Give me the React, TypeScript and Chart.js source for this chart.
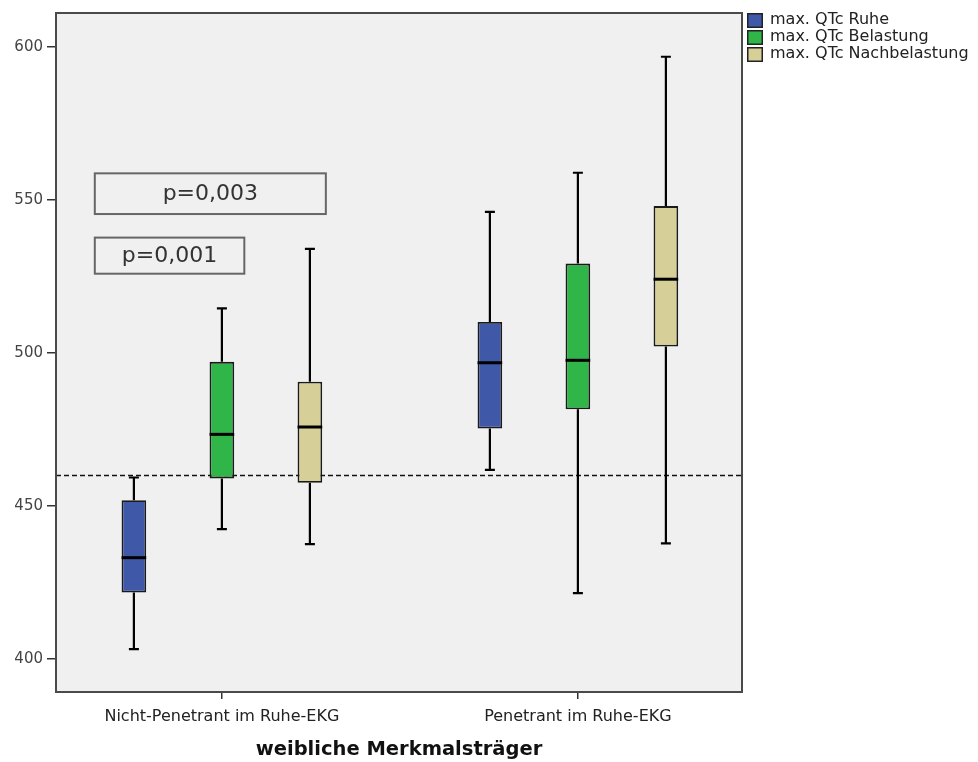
import React, { useEffect, useRef } from "react";
import { Chart, registerables } from "chart.js";

Chart.register(...registerables);

// ---- data ----
const categories = ["Nicht-Penetrant im Ruhe-EKG", "Penetrant im Ruhe-EKG"];
const seriesNames = ["max. QTc Ruhe", "max. QTc Belastung", "max. QTc Nachbelastung"];
const seriesColors = ["#3f58a8", "#2fb548", "#d6cf98"];

const ruheMin = [403.2, 461.8];
const ruheQ1 = [421.7, 475.3];
const ruheMedian = [433.1, 496.8];
const ruheQ3 = [451.9, 510.1];
const ruheMax = [459.3, 546.1];

const belastungMin = [442.4, 421.5];
const belastungQ1 = [459.0, 481.6];
const belastungMedian = [473.4, 497.6];
const belastungQ3 = [497.1, 529.2];
const belastungMax = [514.6, 558.9];

const nachMin = [437.5, 437.8];
const nachQ1 = [457.6, 502.1];
const nachMedian = [475.8, 524.1];
const nachQ3 = [490.6, 548.0];
const nachMax = [534.0, 596.8];

const yTicks = [400, 450, 500, 550, 600];
const yMin = 389.2;
const yMax = 611.1;
const xMin = -0.466;
const xMax = 1.461;
const referenceLine = 460;
const axisTitle = "weibliche Merkmalsträger";

// p-value annotations (data units)
const pLabels = ["p=0,003", "p=0,001"];
const pFromX = [-0.357, -0.357];
const pToX = [0.292, 0.063];
const pTopY = [558.7, 537.7];
const pBottomY = [545.4, 525.9];

const stats = [
  { min: ruheMin, q1: ruheQ1, med: ruheMedian, q3: ruheQ3, max: ruheMax },
  { min: belastungMin, q1: belastungQ1, med: belastungMedian, q3: belastungQ3, max: belastungMax },
  { min: nachMin, q1: nachQ1, med: nachMedian, q3: nachQ3, max: nachMax },
];

const SANS = "'DejaVu Sans', sans-serif";

const boxPlotPlugin = {
  id: "boxplotExtras",
  beforeDraw(chart: any) {
    const { ctx, chartArea } = chart;
    ctx.save();
    ctx.fillStyle = "#f0f0f0";
    ctx.fillRect(chartArea.left, chartArea.top, chartArea.width, chartArea.height);
    ctx.restore();
  },
  beforeDatasetsDraw(chart: any) {
    const { ctx, chartArea, scales } = chart;
    const xs = scales.x;
    const ys = scales.y;
    ctx.save();
    // reference line
    ctx.strokeStyle = "#111";
    ctx.lineWidth = 1.3;
    ctx.setLineDash([5, 3]);
    const ry = Math.round(ys.getPixelForValue(referenceLine)) + 0.5;
    ctx.beginPath();
    ctx.moveTo(chartArea.left, ry);
    ctx.lineTo(chartArea.right, ry);
    ctx.stroke();
    ctx.setLineDash([]);

    // p-value boxes
    for (let i = 0; i < pLabels.length; i++) {
      const x0 = xs.getPixelForValue(pFromX[i]);
      const x1 = xs.getPixelForValue(pToX[i]);
      const y0 = ys.getPixelForValue(pTopY[i]);
      const y1 = ys.getPixelForValue(pBottomY[i]);
      ctx.strokeStyle = "#666";
      ctx.lineWidth = 2;
      ctx.strokeRect(x0, y0, x1 - x0, y1 - y0);
      ctx.fillStyle = "#333";
      ctx.font = "22px " + SANS;
      ctx.textAlign = "center";
      ctx.textBaseline = "middle";
      ctx.fillText(pLabels[i], (x0 + x1) / 2, (y0 + y1) / 2 + 1);
    }

    // whiskers
    ctx.strokeStyle = "#000";
    ctx.lineWidth = 2.2;
    stats.forEach((s, di) => {
      const meta = chart.getDatasetMeta(di);
      meta.data.forEach((el: any, j: number) => {
        const x = el.x;
        const yMaxP = ys.getPixelForValue(s.max[j]);
        const yQ3 = ys.getPixelForValue(s.q3[j]);
        const yQ1 = ys.getPixelForValue(s.q1[j]);
        const yMinP = ys.getPixelForValue(s.min[j]);
        ctx.beginPath();
        ctx.moveTo(x, yQ3);
        ctx.lineTo(x, yMaxP);
        ctx.moveTo(x, yQ1);
        ctx.lineTo(x, yMinP);
        ctx.moveTo(x - 5, yMaxP);
        ctx.lineTo(x + 5, yMaxP);
        ctx.moveTo(x - 5, yMinP);
        ctx.lineTo(x + 5, yMinP);
        ctx.stroke();
      });
    });
    ctx.restore();
  },
  afterDatasetsDraw(chart: any) {
    const { ctx, chartArea, scales } = chart;
    const ys = scales.y;
    ctx.save();
    // medians
    ctx.strokeStyle = "#000";
    ctx.lineWidth = 3;
    stats.forEach((s, di) => {
      const meta = chart.getDatasetMeta(di);
      meta.data.forEach((el: any, j: number) => {
        const y = ys.getPixelForValue(s.med[j]);
        ctx.beginPath();
        ctx.moveTo(el.x - el.width / 2, y);
        ctx.lineTo(el.x + el.width / 2, y);
        ctx.stroke();
      });
    });
    // plot border
    ctx.strokeStyle = "#4a4a4a";
    ctx.lineWidth = 2;
    ctx.strokeRect(chartArea.left, chartArea.top, chartArea.width, chartArea.height);

    // legend
    const lx = chartArea.right + 5;
    ctx.font = "16px " + SANS;
    ctx.textAlign = "left";
    ctx.textBaseline = "middle";
    seriesNames.forEach((name, i) => {
      const top = chartArea.top + 17 * i;
      ctx.fillStyle = seriesColors[i];
      ctx.fillRect(lx, top, 16, 15);
      ctx.strokeStyle = "#222";
      ctx.lineWidth = 1.5;
      ctx.strokeRect(lx + 0.75, top + 0.75, 14.5, 13.5);
      ctx.fillStyle = "#222";
      ctx.fillText(name, lx + 23, top + 7);
    });
    ctx.restore();
  },
};

export default function App() {
  const canvasRef = useRef<HTMLCanvasElement | null>(null);

  useEffect(() => {
    if (!canvasRef.current) return;
    const datasets = seriesNames.map((name, di) => ({
      label: name,
      data: categories.map((_, j) => ({ x: j, y: [stats[di].q1[j], stats[di].q3[j]] })),
      backgroundColor: seriesColors[di],
      borderColor: "#1a1a1a",
      borderWidth: 1.8,
      borderSkipped: false,
      categoryPercentage: 0.7416,
      barPercentage: 0.28,
    }));

    const chart = new Chart(canvasRef.current, {
      type: "bar",
      data: { datasets } as any,
      plugins: [boxPlotPlugin],
      options: {
        responsive: false,
        animation: false,
        layout: { padding: { top: 12, right: 236, left: 0, bottom: 0 } },
        plugins: { legend: { display: false }, tooltip: { enabled: false } },
        scales: {
          x: {
            type: "linear",
            min: xMin,
            max: xMax,
            offset: false,
            afterBuildTicks: (s: any) => {
              s.ticks = categories.map((_, i) => ({ value: i }));
            },
            afterFit: (s: any) => {
              s.height = 70;
            },
            grid: { offset: false, drawOnChartArea: false, drawTicks: true, tickLength: 7, color: "#333", lineWidth: 1.5 },
            border: { display: false },
            ticks: {
              autoSkip: false,
              maxRotation: 0,
              padding: 8,
              color: "#222",
              font: { family: SANS, size: 16 },
              callback: (v: any) => categories[Math.round(Number(v))] ?? "",
            },
            title: {
              display: true,
              text: axisTitle,
              color: "#111",
              font: { family: SANS, size: 19.5, weight: "bold" },
              padding: { top: 0, bottom: 0 },
            },
          },
          y: {
            type: "linear",
            min: yMin,
            max: yMax,
            afterBuildTicks: (s: any) => {
              s.ticks = yTicks.map((v) => ({ value: v }));
            },
            afterFit: (s: any) => {
              s.width = 56;
            },
            grid: { drawOnChartArea: false, drawTicks: true, tickLength: 9, color: "#333", lineWidth: 1.5 },
            border: { display: false },
            ticks: {
              padding: 4,
              color: "#444",
              font: { family: SANS, size: 15 },
              callback: (v: any) => String(v),
            },
          },
        },
      } as any,
    });
    return () => chart.destroy();
  }, []);

  return (
    <div style={{ position: "fixed", left: 0, top: 0, width: 978, height: 762, background: "#fff" }}>
      <canvas ref={canvasRef} width={978} height={762} style={{ display: "block" }} />
    </div>
  );
}
